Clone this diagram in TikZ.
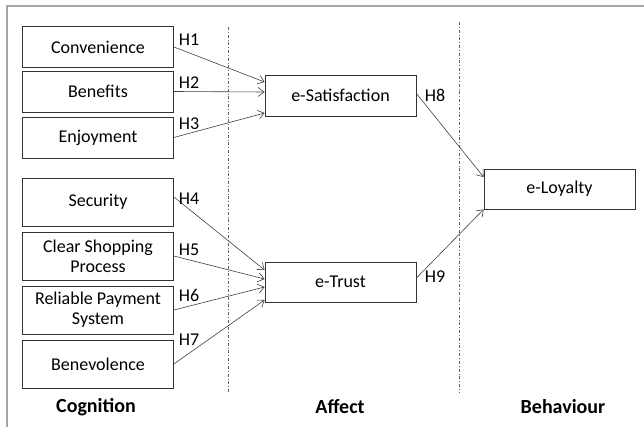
\documentclass[tikz,border=0pt]{standalone}
\usepackage{fontspec}
\setmainfont{Carlito}
\usetikzlibrary{arrows.meta}
\tikzset{
  factor/.style={draw=black!80, line width=0.8pt, minimum width=151pt, minimum height=41pt,
    inner sep=1pt, align=center, font=\fontsize{18}{20}\selectfont},
  hyp/.style={draw=black!75, line width=0.6pt, -{Straight Barb[length=6pt,width=9pt]}},
  hlab/.style={font=\fontsize{18}{20}\selectfont, inner sep=0pt},
  stage/.style={font=\bfseries\fontsize{20}{22}\selectfont},
  divider/.style={black!60, line width=0.7pt, dash dot}
}
\begin{document}
\begin{tikzpicture}[x=1pt,y=-1pt]%one unit = one pixel of the reference
\useasboundingbox (0,0) rectangle (644,427);
\draw[gray!70, line width=1.5pt] (7,427) -- (7,6) -- (644,6);
\draw[divider] (228,27) -- (228,393);
\draw[divider] (459,22) -- (459,393);
% cognition
\node[factor] (conv) at (98,47) {Convenience};
\node[factor] (bene) at (98,91.5) {Benefits};
\node[factor] (enjo) at (98,137.5) {Enjoyment};
\node[factor, minimum height=48pt] (secu) at (98,202) {Security};
\node[factor, minimum height=48pt] (clea) at (98,256) {Clear Shopping\\Process};
\node[factor, minimum height=48pt] (reli) at (98,310) {Reliable Payment\\System};
\node[factor, minimum height=48pt] (benv) at (98,364) {Benevolence};
% affect and behaviour
\node[factor] (sat) at (340.5,95.5) {e-Satisfaction};
\node[factor, minimum height=40pt] (trust) at (340.5,282) {e-Trust};
\node[factor, minimum height=40pt] (loyal) at (559.5,189) {e-Loyalty};
% hypotheses
\draw[hyp] (conv.east) -- ([yshift=13.5pt]sat.west);
\draw[hyp] (bene.east) -- ([yshift=3.5pt]sat.west);
\draw[hyp] (enjo.east) -- ([yshift=-17.5pt]sat.west);
\draw[hyp] ([yshift=5pt]secu.east) -- ([yshift=12pt]trust.west);
\draw[hyp] (clea.east) -- ([yshift=3pt]trust.west);
\draw[hyp] (reli.east) -- ([yshift=-5pt]trust.west);
\draw[hyp] (benv.east) -- ([yshift=-18pt]trust.west);
\draw[hyp] ([yshift=2pt]sat.east) -- ([yshift=12pt]loyal.west);
\draw[hyp] ([yshift=4pt]trust.east) -- (loyal.south west);
\node[hlab] (h1) at (189,40) {H1};
\node[hlab] (h2) at (189,83) {H2};
\node[hlab] (h3) at (189,124) {H3};
\node[hlab] (h4) at (189,199) {H4};
\node[hlab] (h5) at (189,250) {H5};
\node[hlab] (h6) at (189,295) {H6};
\node[hlab] (h7) at (189,340) {H7};
\node[hlab] (h8) at (435,95) {H8};
\node[hlab] (h9) at (435,277) {H9};
\node[stage] (cog) at (96,407) {Cognition};
\node[stage] (aff) at (340,407) {Affect};
\node[stage] (beh) at (563,407) {Behaviour};
\end{tikzpicture}
\end{document}
